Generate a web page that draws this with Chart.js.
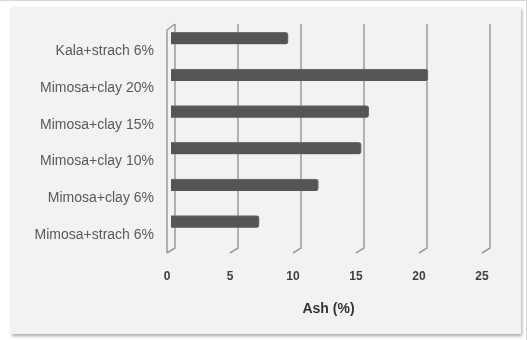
<!DOCTYPE html>
<html>
<head>
<meta charset="utf-8">
<script src="https://cdn.jsdelivr.net/npm/chart.js@4/dist/chart.umd.min.js"></script>
<style>
  html, body { margin: 0; padding: 0; background: #ffffff; }
  #frame { position: relative; width: 527px; height: 340px; overflow: hidden;
           box-sizing: border-box; border-top: 1px solid #d6d6d6; border-right: 1px solid #d6d6d6; }
  #panel { position: absolute; left: 11px; top: 6px; width: 510px; height: 327px;
           background: #f2f2f2; box-shadow: 1px 2px 3px rgba(0,0,0,0.35); }
  #c { position: absolute; left: 0; top: -1px; }
</style>
</head>
<body>
<div id="frame">
  <div id="panel"></div>
  <canvas id="c" width="527" height="340"></canvas>
</div>
<script>
// Ash content by formulation
const categories = [
  'Kala+strach 6%',
  'Mimosa+clay 20%',
  'Mimosa+clay 15%',
  'Mimosa+clay 10%',
  'Mimosa+clay 6%',
  'Mimosa+strach 6%'
];
const ashValues = [9.3, 20.4, 15.7, 15.1, 11.7, 7.0];
const xTicks = [0, 5, 10, 15, 20, 25];
const xTitle = 'Ash (%)';

// depth of the pseudo-3D walls (back plane vs. front plane)
const BACK_DX = 4, FRONT_DX = -4;

const wallPlugin = {
  id: 'wall3d',
  beforeDatasetsDraw(chart) {
    const { ctx, chartArea, scales } = chart;
    const x = scales.x;
    const topBack = chartArea.top + 4;
    const botBack = chartArea.bottom + 8;
    const botFront = chartArea.bottom + 13;
    ctx.save();
    ctx.strokeStyle = '#9c9c9c';
    ctx.lineWidth = 1.5;
    xTicks.forEach(v => {
      const px = x.getPixelForValue(v);
      ctx.beginPath();
      ctx.moveTo(px + BACK_DX, topBack);
      ctx.lineTo(px + BACK_DX, botBack);
      ctx.lineTo(px + FRONT_DX, botFront);
      ctx.stroke();
    });
    // side wall at zero
    const p0 = x.getPixelForValue(0);
    ctx.beginPath();
    ctx.moveTo(p0 + FRONT_DX, botFront);
    ctx.lineTo(p0 + FRONT_DX, topBack + 6);
    ctx.lineTo(p0 + BACK_DX, topBack);
    ctx.stroke();
    ctx.restore();
  }
};

new Chart(document.getElementById('c'), {
  type: 'bar',
  data: {
    labels: categories,
    datasets: [{
      data: ashValues,
      backgroundColor: '#555555',
      borderColor: '#707070',
      borderWidth: { top: 1, right: 1, bottom: 0, left: 0 },
      borderRadius: { topRight: 3, bottomRight: 3 },
      borderSkipped: 'left',
      barThickness: 12
    }]
  },
  options: {
    indexAxis: 'y',
    responsive: false,
    animation: false,
    layout: { padding: { top: 20, right: 41, bottom: 0, left: 0 } },
    plugins: { legend: { display: false }, tooltip: { enabled: false } },
    scales: {
      x: {
        min: 0, max: 25,
        afterBuildTicks(scale) { scale.ticks = xTicks.map(v => ({ value: v })); },
        afterFit(scale) { scale.height = 100; scale.paddingLeft = 0; scale.paddingRight = 0; },
        border: { display: false },
        grid: { display: false, drawTicks: false },
        ticks: {
          padding: 29,
          labelOffset: -4,
          color: '#404040',
          font: { family: 'Liberation Sans', size: 12, weight: 'bold' }
        },
        title: {
          display: true,
          text: xTitle,
          color: '#333333',
          padding: { top: 0, bottom: 22 },
          font: { family: 'Liberation Sans', size: 14, weight: 'bold' }
        }
      },
      y: {
        afterFit(scale) { scale.width = 171; scale.paddingTop = 0; scale.paddingBottom = 0; },
        border: { display: false },
        grid: { display: false, drawTicks: false },
        ticks: {
          padding: 17,
          labelOffset: 13,
          color: '#595959',
          font: { family: 'Liberation Sans', size: 14 }
        }
      }
    }
  },
  plugins: [wallPlugin]
});
</script>
</body>
</html>
